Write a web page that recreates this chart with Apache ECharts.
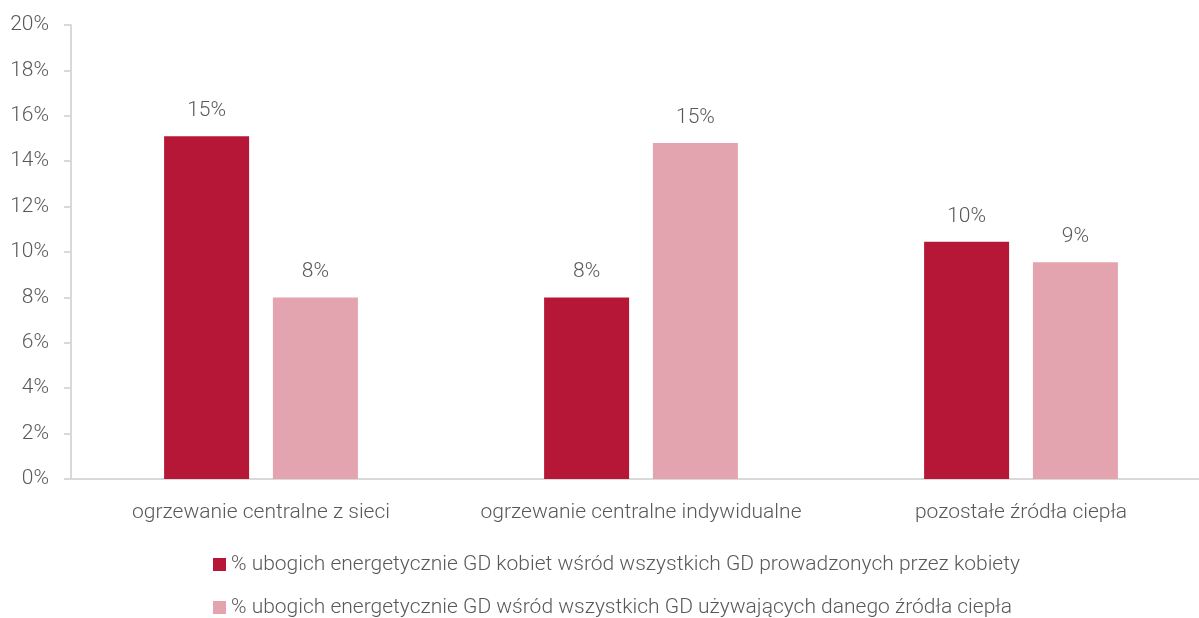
<!DOCTYPE html>
<html><head><meta charset="utf-8">
<script src="https://cdn.jsdelivr.net/npm/echarts@6/dist/echarts.min.js"></script>
<style>html,body{margin:0;padding:0;background:#fff;overflow:hidden;width:1199px;height:618px}#c{width:1215px;height:618px}</style>
</head><body><div id="c"></div>
<script>
const categories = ['ogrzewanie centralne z sieci', 'ogrzewanie centralne indywidualne', 'pozostałe źródła ciepła'];
const seriesNames = ['% ubogich energetycznie GD kobiet wśród wszystkich GD prowadzonych przez kobiety', '% ubogich energetycznie GD wśród wszystkich GD używających danego źródła ciepła'];
const womenValues = [15.1, 8.0, 10.45];
const allValues = [8.0, 14.8, 9.55];
const womenLabels = ['15%', '8%', '10%'];
const allLabels = ['8%', '15%', '9%'];
const yTicks = [0, 2, 4, 6, 8, 10, 12, 14, 16, 18, 20];

const FONT = 'Roboto';
const TXT = '#595959';
const chart = echarts.init(document.getElementById('c'), null, {renderer: 'canvas'});
function lab(arr){ return {show: true, position: 'top', distance: 15, fontFamily: FONT, fontWeight: 300, fontSize: 21, color: TXT, formatter: p => arr[p.dataIndex]}; }
const legendText = {fontFamily: FONT, fontWeight: 300, fontSize: 21, color: TXT};
chart.setOption({
  animation: false,
  grid: {left: 71, top: 25, bottom: 139, right: 4, containLabel: false},
  legend: [
    {data: [seriesNames[0]], left: 213, top: 554, itemWidth: 13, itemHeight: 13, icon: 'rect', padding: 0, textStyle: legendText},
    {data: [seriesNames[1]], left: 213, top: 597, itemWidth: 13, itemHeight: 13, icon: 'rect', padding: 0, textStyle: legendText}
  ],
  xAxis: {type: 'category', data: categories,
    axisLine: {lineStyle: {color: '#d9d9d9', width: 2}}, axisTick: {show: false},
    axisLabel: {interval: 0, fontFamily: FONT, fontWeight: 300, fontSize: 21, color: TXT, margin: 23}},
  yAxis: {type: 'value', min: yTicks[0], max: yTicks[yTicks.length-1], interval: 2,
    axisLine: {show: true, lineStyle: {color: '#d9d9d9', width: 2}},
    axisTick: {show: true, length: 7, lineStyle: {color: '#d9d9d9', width: 2}},
    splitLine: {show: false},
    axisLabel: {fontFamily: FONT, fontWeight: 300, fontSize: 21, color: TXT, margin: 22, formatter: v => v + '%'}},
  series: [
    {name: seriesNames[0], type: 'bar', data: womenValues, barWidth: 85, barGap: '28%', itemStyle: {color: '#B71737'}, label: lab(womenLabels)},
    {name: seriesNames[1], type: 'bar', data: allValues, barWidth: 85, itemStyle: {color: '#E3A3AF'}, label: lab(allLabels)}
  ]
});
</script></body></html>
